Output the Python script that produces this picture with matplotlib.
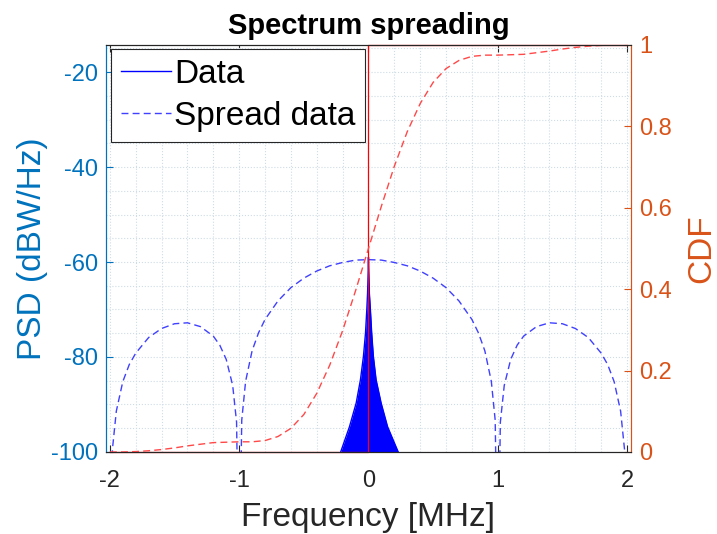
import matplotlib.pyplot as plt
from matplotlib.ticker import MultipleLocator
import numpy as np

plt.rcParams['font.family'] = ['Liberation Sans', 'DejaVu Sans']

# narrow-band data PSD (envelope of the spike around 0), MHz / dBW/Hz
data_freq = [-0.215, -0.147, -0.095, -0.062, -0.039, -0.023, -0.013, -0.007, -0.002, 0.0,
             0.002, 0.007, 0.015, 0.025, 0.038, 0.059, 0.098, 0.148, 0.23]
data_psd = [-100, -94.7, -89.7, -84.8, -79.9, -75.0, -70.1, -66.6, -62.0, -59.0,
            -62.0, -66.6, -70.1, -75.0, -79.9, -84.8, -89.7, -94.7, -100]

# spread data PSD
spread_freq = [-2.0, -1.98, -1.95, -1.9, -1.85, -1.8, -1.7, -1.6, -1.5, -1.4, -1.3, -1.2, -1.15,
               -1.1, -1.05, -1.02, -1.0, -0.98, -0.95, -0.9, -0.85, -0.8, -0.7, -0.6, -0.5,
               -0.4, -0.3, -0.2, -0.1, 0.0, 0.1, 0.2, 0.3, 0.4, 0.5, 0.6, 0.7, 0.8, 0.85,
               0.9, 0.95, 0.98, 1.0, 1.02, 1.05, 1.1, 1.15, 1.2, 1.3, 1.4, 1.5, 1.6, 1.7,
               1.8, 1.85, 1.9, 1.95, 1.98, 2.0]
spread_psd = [-130, -99.4, -91.4, -85.2, -81.6, -79.2, -75.9, -74.0, -73.0, -72.8, -73.6, -75.6, -77.5,
              -80.5, -86.0, -93.7, -130, -93.3, -85.1, -78.7, -74.9, -72.1, -68.2, -65.4, -63.4,
              -61.9, -60.8, -60.1, -59.6, -59.5, -59.6, -60.1, -60.8, -61.9, -63.4, -65.4, -68.2, -72.1, -74.9,
              -78.7, -85.1, -93.3, -130, -93.7, -86.0, -80.5, -77.5, -75.6, -73.6, -72.8, -73.0, -74.0, -75.9,
              -79.2, -81.6, -85.2, -91.4, -99.4, -130]

# CDFs
data_cdf_freq = [-2.0, 0.0, 0.0, 2.0]
data_cdf = [0, 0, 1, 1]
cdf_freq = [-2.0, -1.9, -1.8, -1.7, -1.6, -1.5, -1.4, -1.3, -1.2, -1.1, -1.0, -0.9, -0.8, -0.7,
            -0.6, -0.5, -0.4, -0.3, -0.2, -0.1, 0.0, 0.1, 0.2, 0.3, 0.4, 0.5, 0.6, 0.7, 0.8,
            0.9, 1.0, 1.1, 1.2, 1.3, 1.4, 1.5, 1.6, 1.7, 1.8, 1.9, 2.0]
spread_cdf = [0.0, 0.0, 0.001, 0.003, 0.006, 0.010, 0.015, 0.019, 0.023, 0.024, 0.025, 0.025, 0.028, 0.038,
              0.058, 0.092, 0.144, 0.213, 0.298, 0.396, 0.5, 0.604, 0.702, 0.787, 0.856, 0.908, 0.942, 0.962, 0.972,
              0.975, 0.975, 0.976, 0.977, 0.981, 0.985, 0.990, 0.994, 0.997, 0.999, 1.0, 1.0]

blue = '#0072BD'
orange = '#D95319'
dark = '#262626'

fig = plt.figure(figsize=(7.17, 5.34), dpi=100)
ax = fig.add_axes([0.1478, 0.1536, 0.7322, 0.7622])

ax.fill_between(data_freq, data_psd, -100, color='#0000ff', lw=0)
h1, = ax.plot(data_freq, data_psd, color='#0000ff', lw=1)
h2, = ax.plot(spread_freq, spread_psd, color='#4040ff', lw=1, ls=(0, (5, 3)))

ax.set_xlim(-2.03, 2.03)
ax.set_ylim(-100, -14.3)
ax.set_xticks([-2, -1, 0, 1, 2])
ax.set_xticklabels(['-2', '-1', '0', '1', '2'])
ax.set_yticks([-100, -80, -60, -40, -20])
ax.set_yticklabels(['-100', '-80', '-60', '-40', '-20'])
ax.xaxis.set_minor_locator(MultipleLocator(0.2))
ax.yaxis.set_minor_locator(MultipleLocator(5))
ax.grid(which='both', ls=':', color='#cfdce6', lw=0.8)
ax.set_axisbelow(True)
ax.tick_params(axis='x', which='major', direction='in', top=True, length=5, colors=dark,
               labelsize=17, pad=13)
ax.tick_params(axis='y', which='major', direction='in', length=5, color=blue,
               labelcolor=blue, labelsize=17, pad=6)
ax.tick_params(which='minor', length=0)
ax.set_xlabel('Frequency [MHz]', fontsize=24, color=dark, labelpad=7)
ax.set_ylabel('PSD (dBW/Hz)', fontsize=24, color=blue, labelpad=2)
ax.set_title('Spectrum spreading', fontsize=21, fontweight='bold', pad=8)

ax2 = ax.twinx()
ax2.plot(data_cdf_freq, data_cdf, color='#ff0000', lw=0.9, clip_on=False)
ax2.plot(cdf_freq, spread_cdf, color='#ff4848', lw=1, ls=(0, (5, 3)))
ax2.set_ylim(0, 1)
ax2.set_yticks([0, 0.2, 0.4, 0.6, 0.8, 1])
ax2.set_yticklabels(['0', '0.2', '0.4', '0.6', '0.8', '1'])
ax2.tick_params(axis='y', direction='in', length=5, color=orange, labelcolor=orange,
                labelsize=17, pad=6)
ax2.set_ylabel('CDF', fontsize=24, color=orange, labelpad=10)

for a in (ax, ax2):
    a.spines['left'].set_color(blue)
    a.spines['right'].set_color(orange)
    a.spines['top'].set_color(dark)
    a.spines['bottom'].set_color(dark)
    for s in a.spines.values():
        s.set_linewidth(0.8)

leg = ax2.legend([h1, h2], ['Data', 'Spread data'], loc='upper left',
                 bbox_to_anchor=(0.009, 0.99), borderaxespad=0, fontsize=24,
                 fancybox=False, edgecolor=dark, framealpha=1, handlelength=1.5,
                 handletextpad=0.1, borderpad=0.3, labelspacing=0.32)
leg.get_frame().set_linewidth(0.8)
leg.set_zorder(10)

fig.savefig('out.png', dpi=100)
